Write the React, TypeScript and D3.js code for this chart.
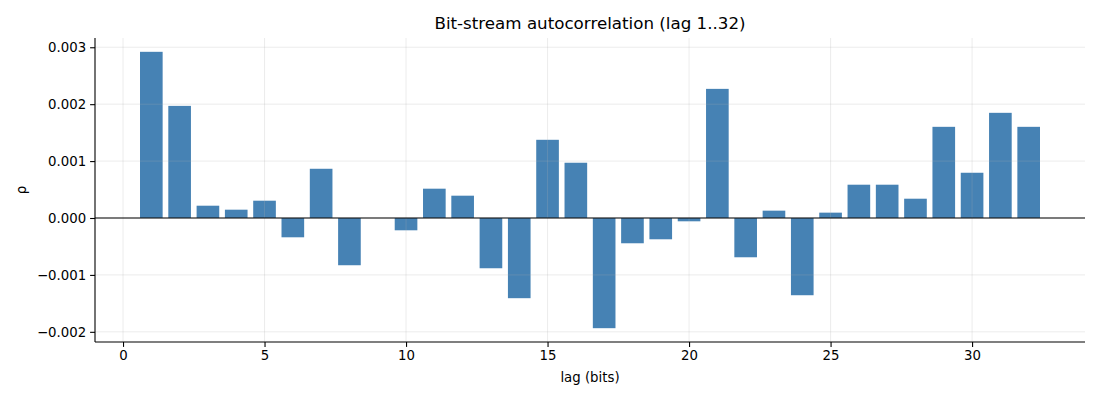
import { useEffect, useRef } from "react";
import * as d3 from "d3";

const lags = d3.range(1, 33);
const rho = [
  0.00292, 0.00197, 0.000216, 0.000146, 0.000304, -0.000339, 0.000865, -0.00083,
  0.0, -0.000216, 0.000515, 0.000392, -0.000883, -0.001409, 0.001374, 0.000971,
  -0.001936, -0.000444, -0.000374, -0.000058, 0.002269, -0.00069, 0.000129, -0.001357,
  0.000094, 0.000585, 0.000585, 0.000339, 0.001602, 0.000795, 0.001848, 0.001602,
];
const xTicks = [0, 5, 10, 15, 20, 25, 30];
const yTicks = [-0.002, -0.001, 0, 0.001, 0.002, 0.003];

const W = 1100;
const H = 400;
const margin = { top: 38, right: 15, bottom: 58, left: 95 };
const font = "DejaVu Sans, sans-serif";

export default function App() {
  const svgRef = useRef<SVGSVGElement>(null);

  useEffect(() => {
    if (!svgRef.current) return;
    const svg = d3.select(svgRef.current);
    svg.selectAll("*").remove();

    const width = W - margin.left - margin.right;
    const height = H - margin.top - margin.bottom;

    const barW = 0.8;
    const xLo = 1 - barW / 2;
    const xHi = 32 + barW / 2;
    const xPad = (xHi - xLo) * 0.05;
    const x = d3.scaleLinear().domain([xLo - xPad, xHi + xPad]).range([0, width]);

    const yMin = Math.min(0, d3.min(rho) as number);
    const yMax = Math.max(0, d3.max(rho) as number);
    const yPad = (yMax - yMin) * 0.05;
    const y = d3.scaleLinear().domain([yMin - yPad, yMax + yPad]).range([height, 0]);

    const g = svg
      .append("g")
      .attr("transform", `translate(${margin.left},${margin.top})`);

    // bars
    g.selectAll("rect.bar")
      .data(lags)
      .join("rect")
      .attr("class", "bar")
      .attr("x", (d) => x(d - barW / 2))
      .attr("width", x(barW) - x(0))
      .attr("y", (d, i) => y(Math.max(0, rho[i])))
      .attr("height", (d, i) => Math.abs(y(rho[i]) - y(0)))
      .attr("fill", "#4682b4");

    // grid on top, faint
    g.append("g")
      .selectAll("line")
      .data(xTicks)
      .join("line")
      .attr("x1", (d) => x(d))
      .attr("x2", (d) => x(d))
      .attr("y1", 0)
      .attr("y2", height)
      .attr("stroke", "#b0b0b0")
      .attr("stroke-opacity", 0.3)
      .attr("stroke-width", 0.8);

    g.append("g")
      .selectAll("line")
      .data(yTicks)
      .join("line")
      .attr("x1", 0)
      .attr("x2", width)
      .attr("y1", (d) => y(d))
      .attr("y2", (d) => y(d))
      .attr("stroke", "#b0b0b0")
      .attr("stroke-opacity", 0.3)
      .attr("stroke-width", 0.8);

    // zero line
    g.append("line")
      .attr("x1", 0)
      .attr("x2", width)
      .attr("y1", y(0))
      .attr("y2", y(0))
      .attr("stroke", "#000")
      .attr("stroke-width", 1.1);

    const fmt = (d: number) => d3.format(".3f")(d).replace("-", "\u2212");

    const xAxis = g
      .append("g")
      .attr("transform", `translate(0,${height})`)
      .call(d3.axisBottom(x).tickValues(xTicks).tickSize(4.9).tickPadding(4).tickFormat((d) => `${d}`));
    const yAxis = g
      .append("g")
      .call(d3.axisLeft(y).tickValues(yTicks).tickSize(4.9).tickPadding(4).tickFormat((d) => fmt(d as number)));

    [xAxis, yAxis].forEach((a) => {
      a.select(".domain").remove();
      a.selectAll(".tick line").attr("stroke", "#000").attr("stroke-width", 1.1);
      a.selectAll(".tick text")
        .attr("fill", "#000")
        .style("font-family", font)
        .style("font-size", "13.3px");
    });

    // spines
    g.append("line")
      .attr("x1", 0).attr("x2", 0).attr("y1", 0).attr("y2", height)
      .attr("stroke", "#000").attr("stroke-width", 1.1);
    g.append("line")
      .attr("x1", 0).attr("x2", width).attr("y1", height).attr("y2", height)
      .attr("stroke", "#000").attr("stroke-width", 1.1);

    svg.append("text")
      .attr("x", margin.left + width / 2)
      .attr("y", 29)
      .attr("text-anchor", "middle")
      .style("font-family", font)
      .style("font-size", "16.7px")
      .attr("fill", "#000")
      .text("Bit-stream autocorrelation (lag 1..32)");

    svg.append("text")
      .attr("x", margin.left + width / 2)
      .attr("y", 382)
      .attr("text-anchor", "middle")
      .style("font-family", font)
      .style("font-size", "13.3px")
      .attr("fill", "#000")
      .text("lag (bits)");

    svg.append("text")
      .attr("transform", `translate(26,${margin.top + height / 2}) rotate(-90)`)
      .attr("text-anchor", "middle")
      .style("font-family", font)
      .style("font-size", "13.3px")
      .attr("fill", "#000")
      .text("ρ");
  }, []);

  return <svg ref={svgRef} width={W} height={H} style={{ display: "block", margin: -8 }} />;
}
